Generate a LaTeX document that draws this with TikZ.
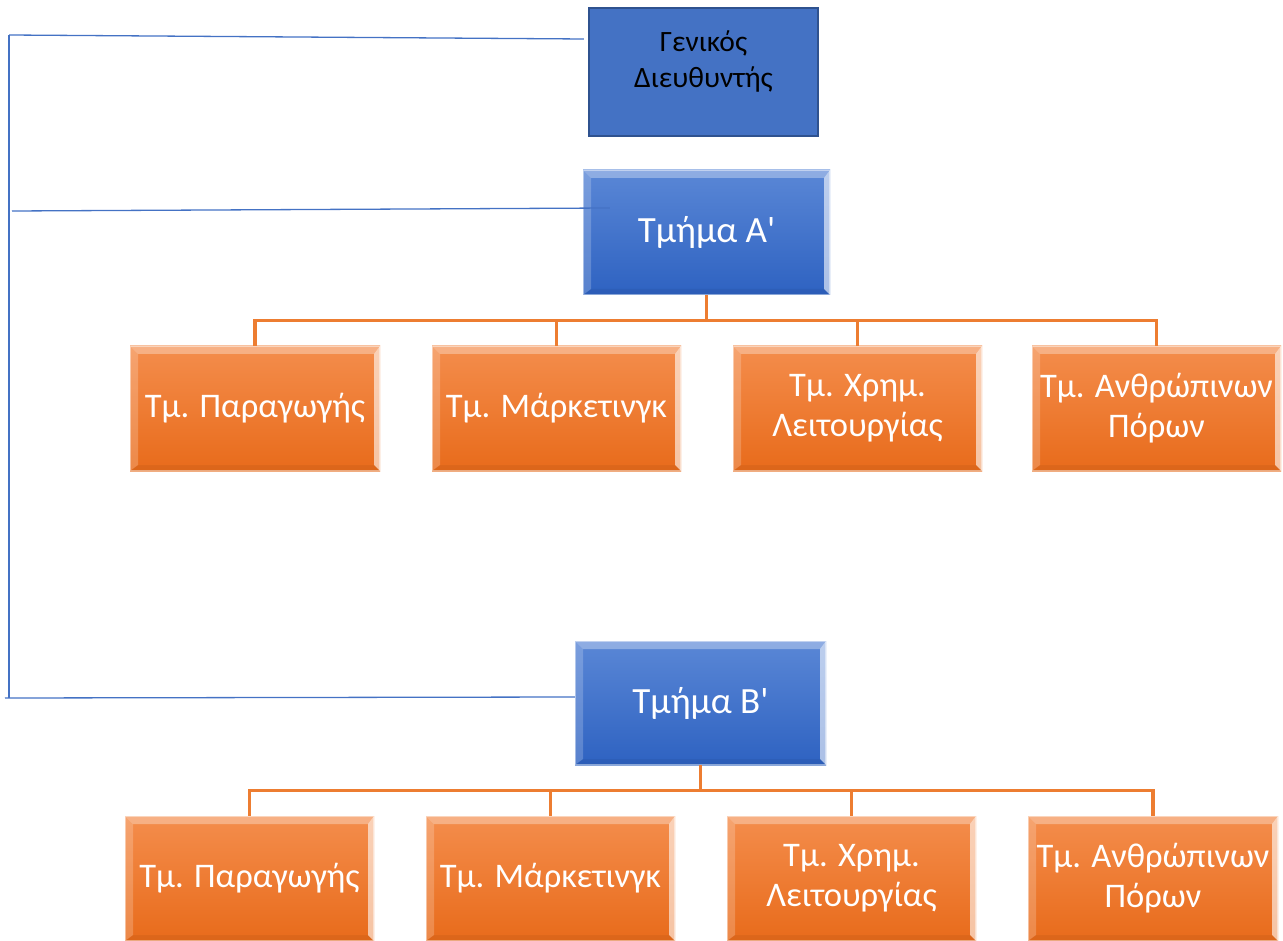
\documentclass[tikz,border=0pt]{standalone}
\usepackage{fontspec}
\setmainfont{Carlito}
\definecolor{linkblue}{HTML}{4472C4}
\definecolor{headfill}{HTML}{4472C4}
\definecolor{headedge}{HTML}{2F528F}
\definecolor{unitTop}{HTML}{5A87D6}
\definecolor{unitBot}{HTML}{2E62C1}
\definecolor{deptTop}{HTML}{F48D4C}
\definecolor{deptBot}{HTML}{E86B1B}
\definecolor{linkorange}{HTML}{ED7D31}
\begin{document}
\begin{tikzpicture}[x=1pt,y={(0pt,-1pt)},
  blueline/.style={draw=linkblue,line width=1.3pt},
  orgline/.style={draw=linkorange,line width=3.2pt},
  headbox/.style={rectangle,draw=headedge,line width=2.5pt,fill=headfill,
    minimum width=229pt,minimum height=128pt,inner sep=0pt,align=center,
    text=black,font=\fontsize{29.5}{36}\selectfont},
  bevel/.style={rectangle,inner sep=0pt,align=center,text=white,
    font=\fontsize{34.5}{40}\selectfont,
    path picture={
      \coordinate (bnw) at (path picture bounding box.north west);
      \coordinate (bne) at (path picture bounding box.north east);
      \coordinate (bsw) at (path picture bounding box.south west);
      \coordinate (bse) at (path picture bounding box.south east);
      \fill[white,opacity=0.32] (bnw) -- (bne) -- ([xshift=-6pt,yshift=-8pt]bne)
        -- ([xshift=8pt,yshift=-8pt]bnw) -- cycle;
      \fill[white,opacity=0.2] (bnw) -- ([xshift=8pt,yshift=-8pt]bnw)
        -- ([xshift=8pt,yshift=6pt]bsw) -- (bsw) -- cycle;
      \fill[white,opacity=0.6] (bne) -- ([xshift=-6pt,yshift=-8pt]bne)
        -- ([xshift=-6pt,yshift=6pt]bse) -- (bse) -- cycle;
      \fill[black,opacity=0.05] (bsw) -- ([xshift=8pt,yshift=6pt]bsw)
        -- ([xshift=-6pt,yshift=6pt]bse) -- (bse) -- cycle;
      \draw[white,opacity=0.45,line width=1.2pt] (bnw) rectangle (bse);
    }},
  unitbox/.style={bevel,top color=unitTop,bottom color=unitBot,
    minimum width=249pt,minimum height=125pt,
    font=\fontsize{37}{42}\selectfont},
  deptbox/.style={bevel,top color=deptTop,bottom color=deptBot,
    minimum width=250pt,minimum height=125pt}
]
\useasboundingbox (0,0) rectangle (1283,941);

% general manager (text sits a little above the centre)
\node[headbox] (gd) at (703.5,72)
  {\raisebox{3pt}[0pt][0pt]{\begin{tabular}{@{}c@{}}Γενικός\\Διευθυντής\end{tabular}}};

% department A and its sections
\node[unitbox,minimum width=247pt] (tA) at (706.5,232.5) {Τμήμα Α\textquotesingle};
\node[deptbox] (a1) at (255,408.5) {Τμ. Παραγωγής};
\node[deptbox,minimum width=249pt] (a2) at (556.5,408.5) {Τμ. Μάρκετινγκ};
\node[deptbox,minimum width=249pt] (a3) at (857.5,408.5) {Τμ. Χρημ.\\Λειτουργίας};
\node[deptbox,minimum width=249pt] (a4) at (1156.5,408.5) {Τμ. Ανθρώπινων\\Πόρων};

% department B and its sections
\node[unitbox,minimum width=251pt,minimum height=124pt] (tB) at (700.5,703) {Τμήμα Β\textquotesingle};
\node[deptbox,minimum width=249pt] (b1) at (249.5,878.5) {Τμ. Παραγωγής};
\node[deptbox,minimum width=249pt] (b2) at (550.5,878.5) {Τμ. Μάρκετινγκ};
\node[deptbox,minimum width=249pt] (b3) at (851.5,878.5) {Τμ. Χρημ.\\Λειτουργίας};
\node[deptbox] (b4) at (1153,878.5) {Τμ. Ανθρώπινων\\Πόρων};

% section connectors
\foreach \c in {a1,a2,a3,a4}
  \draw[orgline] (tA.south) -- ++(0,25) -| (\c.north);
\foreach \c in {b1,b2,b3,b4}
  \draw[orgline] (tB.south) -- ++(0,25) -| (\c.north);

% reporting spine on the left
\coordinate (sT) at (9,35);
\coordinate (sM) at (12,211);
\coordinate (sB) at (5,698);
\draw[blueline] (sT) -- (sT |- sB);
\draw[blueline] (sT) -- ([xshift=-4pt,yshift=33pt]gd.west);
\draw[blueline] (sM) -- ([xshift=27pt,yshift=24.5pt]tA.west);
\draw[blueline] (sB) -- ([yshift=6pt]tB.west);
\end{tikzpicture}
\end{document}
